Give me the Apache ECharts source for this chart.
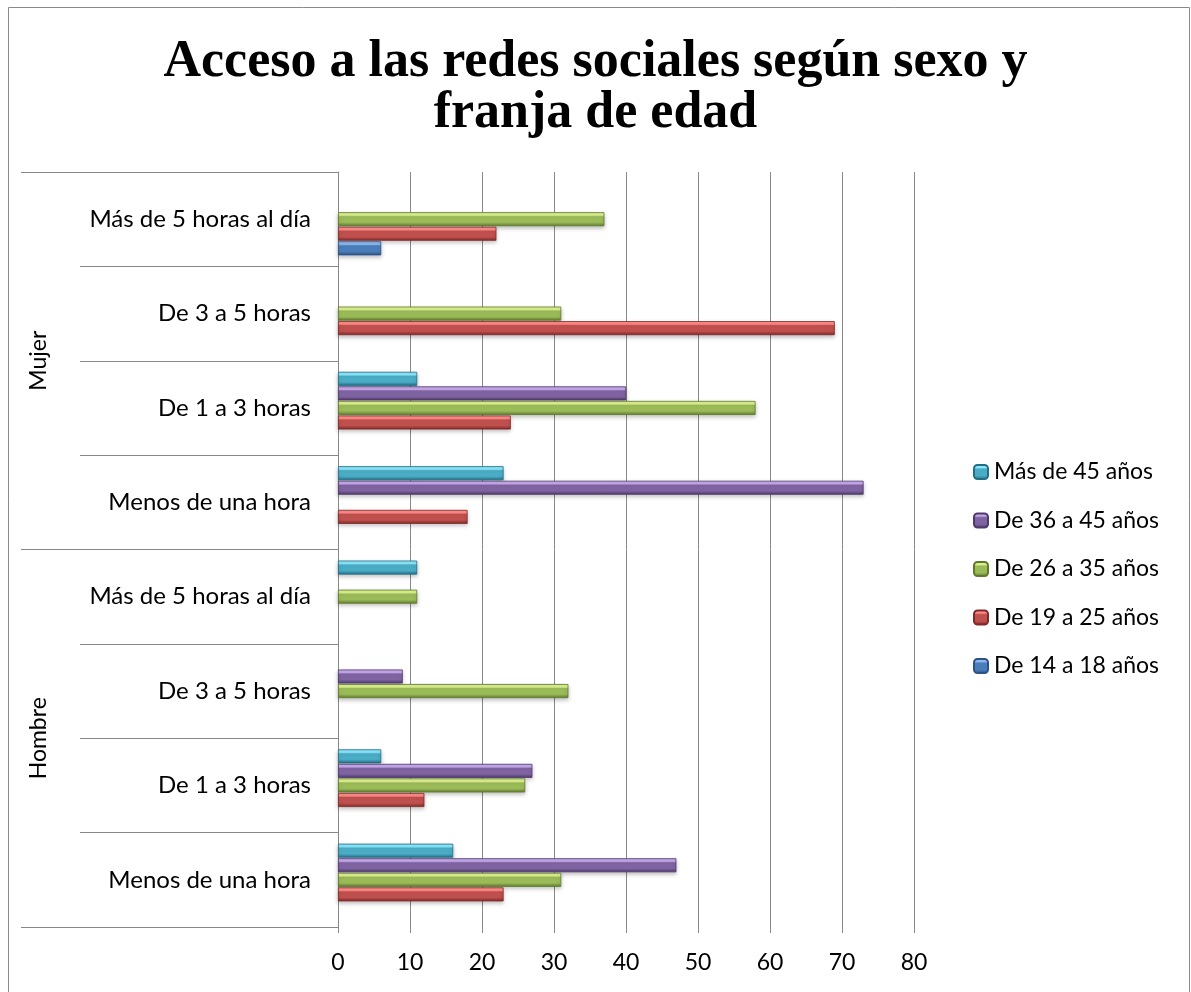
<!DOCTYPE html>
<html>
<head>
<meta charset="utf-8">
<script src="https://cdn.jsdelivr.net/npm/echarts@6/dist/echarts.min.js"></script>
<style>
  html, body { margin: 0; padding: 0; background: #fff; }
  #chart { width: 1191px; height: 992px; }
</style>
</head>
<body>
<div id="chart"></div>
<script>
// Categories, listed bottom to top
const groups = ['Hombre', 'Mujer'];
const hours = ['Menos de una hora', 'De 1 a 3 horas', 'De 3 a 5 horas', 'Más de 5 horas al día'];
const categories = [];
groups.forEach(g => hours.forEach(h => categories.push(g + '|' + h)));

// Age bands and their values, same order as categories; null = no bar
const seriesNames = ['De 14 a 18 años', 'De 19 a 25 años', 'De 26 a 35 años', 'De 36 a 45 años', 'Más de 45 años'];
const age14to18 = [null, null, null, null, null, null, null, 6];
const age19to25 = [23, 12, null, null, 18, 24, 69, 22];
const age26to35 = [31, 26, 32, 11, null, 58, 31, 37];
const age36to45 = [47, 27, 9, null, 73, 40, null, null];
const age46plus = [16, 6, null, 11, 23, 11, null, null];
const xTicks = [0, 10, 20, 30, 40, 50, 60, 70, 80];

const values = [age14to18, age19to25, age26to35, age36to45, age46plus];

// light / base / dark shades for the bevelled bars
const palette = [
  ['#8fb8ee', '#4a7ebb', '#2c5286'],
  ['#ff8a87', '#c0504d', '#7e2a28'],
  ['#dcf08e', '#9bbb59', '#5f7a2c'],
  ['#c5a8ec', '#8064a2', '#4e3a69'],
  ['#8ae6fa', '#4bacc6', '#226f85']
];

function barFill(p) {
  return new echarts.graphic.LinearGradient(0, 0, 0, 1, [
    { offset: 0, color: p[0] },
    { offset: 0.22, color: p[0] },
    { offset: 0.32, color: p[1] },
    { offset: 0.72, color: p[1] },
    { offset: 1, color: p[2] }
  ]);
}

const chart = echarts.init(document.getElementById('chart'), null, { renderer: 'canvas' });

// youngest band sits lowest in each category, so series are added oldest first
const series = seriesNames.map((name, i) => ({
  name: name,
  type: 'bar',
  yAxisIndex: 0,
  data: values[i].map(v => (v === null ? '-' : v)),
  barWidth: 14,
  barGap: '4%',
  barCategoryGap: '25%',
  itemStyle: {
    color: barFill(palette[i]),
    borderColor: palette[i][2],
    borderWidth: 0.8,
    shadowColor: 'rgba(0,0,0,0.25)',
    shadowBlur: 4,
    shadowOffsetY: 2
  }
})).reverse();

const labelFont = 'Lato, "Open Sans", sans-serif';

chart.setOption({
  animation: false,
  backgroundColor: '#fff',
  title: {
    text: 'Acceso a las redes sociales según sexo y\nfranja de edad',
    left: 'center',
    top: 32,
    textStyle: {
      fontFamily: '"Liberation Serif", serif',
      fontWeight: 'bold',
      fontSize: 52,
      lineHeight: 51,
      color: '#000'
    }
  },
  graphic: [{
    type: 'rect',
    shape: { x: 8.5, y: 7.5, width: 1181, height: 1000 },
    style: { fill: null, stroke: '#8a8a8a', lineWidth: 1 },
    silent: true
  }],
  legend: {
    orient: 'vertical',
    left: 968,
    top: 455,
    itemWidth: 14,
    itemHeight: 14,
    itemGap: 24.5,
    data: seriesNames.slice().reverse(),
    textStyle: { fontFamily: labelFont, fontSize: 23, color: '#000', lineHeight: 24, padding: [0, 0, 0, 1] }
  },
  grid: { left: 338, right: 277, top: 172, bottom: 65, containLabel: false },
  xAxis: {
    type: 'value',
    min: 0,
    max: 80,
    interval: 10,
    axisLine: { show: false },
    axisTick: { show: true, length: 6, lineStyle: { color: '#888', width: 1 } },
    splitLine: { show: true, lineStyle: { color: '#888', width: 1 } },
    axisLabel: {
      margin: 24,
      fontFamily: labelFont,
      fontSize: 23,
      color: '#000',
      formatter: v => (xTicks.indexOf(v) >= 0 ? String(v) : '')
    }
  },
  yAxis: [{
    type: 'category',
    data: categories,
    position: 'left',
    axisLine: { show: true, lineStyle: { color: '#888', width: 1 } },
    axisTick: { show: true, length: 258, lineStyle: { color: '#888', width: 1 } },
    axisLabel: {
      margin: 27,
      fontFamily: labelFont,
      fontSize: 24,
      color: '#000',
      formatter: v => v.split('|')[1]
    }
  }, {
    type: 'category',
    data: groups,
    position: 'left',
    offset: 0,
    axisLine: { show: false },
    axisTick: { show: true, length: 317, lineStyle: { color: '#888', width: 1 } },
    axisLabel: {
      rotate: 90,
      margin: 288,
      fontFamily: labelFont,
      fontSize: 23,
      color: '#000'
    }
  }],
  series: series
});
</script>
</body>
</html>
